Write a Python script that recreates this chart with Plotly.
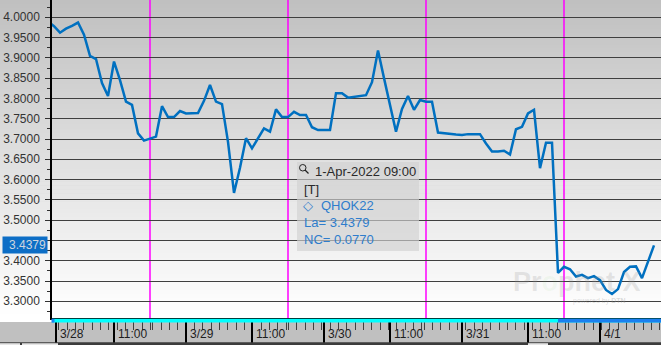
import pandas as pd
import plotly.graph_objects as go

# ---------------- data ----------------
times_all = pd.date_range("2022-03-28 00:00", "2022-04-01 09:00", freq="h")
times = [t.strftime("%Y-%m-%d %H:%M") for t in times_all if t.hour != 17]

values = [
    3.990, 3.978, 3.962, 3.972, 3.979, 3.987, 3.957, 3.905, 3.897, 3.838,
    3.806, 3.891, 3.845, 3.792, 3.784, 3.714, 3.696, 3.702, 3.706, 3.781,
    3.754, 3.754, 3.769, 3.763, 3.763, 3.764, 3.794, 3.833, 3.792, 3.786,
    3.693, 3.567, 3.629, 3.702, 3.677, 3.702, 3.726, 3.718, 3.773, 3.754,
    3.754, 3.767, 3.759, 3.759, 3.729, 3.722, 3.722, 3.722, 3.813, 3.813,
    3.802, 3.804, 3.806, 3.808, 3.840, 3.918, 3.850, 3.781, 3.718, 3.774,
    3.806, 3.772, 3.796, 3.792, 3.792, 3.716, 3.714, 3.712, 3.711, 3.710,
    3.712, 3.712, 3.712, 3.689, 3.669, 3.669, 3.671, 3.662, 3.724, 3.730,
    3.763, 3.772, 3.628, 3.691, 3.691, 3.370, 3.385, 3.379, 3.361, 3.365,
    3.357, 3.362, 3.352, 3.328, 3.318, 3.330, 3.372, 3.385, 3.386, 3.357,
    3.397, 3.4379,
]

tick_times = ["2022-03-28 01:15", "2022-03-28 11:00", "2022-03-29 00:00", "2022-03-29 11:00",
              "2022-03-30 00:00", "2022-03-30 11:00", "2022-03-31 00:00", "2022-03-31 11:00",
              "2022-04-01 00:00"]
tick_labels = ["3/28", "11:00", "3/29", "11:00", "3/30", "11:00", "3/31", "11:00", "4/1"]

y_tick_vals = [3.30, 3.35, 3.40, 3.45, 3.50, 3.55, 3.60, 3.65, 3.70, 3.75, 3.80, 3.85, 3.90, 3.95, 4.00]
# the 3.4500 label is hidden behind the last-value marker
y_tick_text = ["3.3000", "3.3500", "3.4000", "", "3.5000", "3.5500", "3.6000", "3.6500",
               "3.7000", "3.7500", "3.8000", "3.8500", "3.9000", "3.9500", "4.0000"]

session_breaks = ["2022-03-28 18:00", "2022-03-29 18:00", "2022-03-30 18:00", "2022-03-31 18:00"]

symbol = "QHOK22"
last_time_label = "1-Apr-2022 09:00"
last_value = values[-1]
net_change = 0.0770

# ---------------- geometry helpers (pixels -> paper) ----------------
W, H = 661, 345
L, R, T, B = 52, 0, 0, 27
PW, PH = W - L - R, H - T - B


def px(x):
    return (x - L) / PW


def py(y):
    return 1 - (y - T) / PH


FONT = "Liberation Sans, Arial, sans-serif"

fig = go.Figure()
fig.add_trace(go.Scatter(x=times, y=values, mode="lines",
                         line=dict(color="#0070c0", width=2.5),
                         hoverinfo="skip", showlegend=False))

shapes = []
# background gradient (grey at top to white at bottom)
n = 80
for i in range(n):
    y0 = i * 322 / n
    y1 = (i + 1) * 322 / n + 0.6
    c = int(round(192 + 63 * min(1.0, (i + 0.5) / n * 1.02)))
    shapes.append(dict(type="rect", xref="paper", yref="paper", layer="below",
                       x0=px(0), x1=px(W), y0=py(min(y1, 322)), y1=py(y0),
                       fillcolor=f"rgb({c},{c},{c})", line=dict(width=0)))

# session boundaries (magenta)
for s in session_breaks:
    shapes.append(dict(type="line", xref="x", yref="paper", layer="between",
                       x0=s, x1=s, y0=0, y1=1, line=dict(color="#ff00ff", width=1.5)))

# cyan / blue strip below plot
shapes.append(dict(type="rect", xref="paper", yref="paper", layer="above",
                   x0=px(52), x1=px(W), y0=py(322.6), y1=py(318.8),
                   fillcolor="#00ffff", line=dict(width=0)))
shapes.append(dict(type="rect", xref="x", yref="paper", layer="above",
                   x0="2022-03-31 16:00", x1="2022-04-01 10:10", y0=py(322.6), y1=py(318.8),
                   fillcolor="#1a80f0", line=dict(width=0)))
shapes.append(dict(type="rect", xref="paper", yref="paper", layer="above",
                   x0=px(51.5), x1=px(54.5), y0=py(322.6), y1=py(318.8),
                   fillcolor="#1a80f0", line=dict(width=0)))
# bottom dark strip
shapes.append(dict(type="rect", xref="paper", yref="paper", layer="above",
                   x0=px(0), x1=px(W), y0=py(345), y1=py(342.3),
                   fillcolor="#3c3c3c", line=dict(width=0)))
for a, b in [(0, 20), (22, 58), (528, 548)]:
    shapes.append(dict(type="rect", xref="paper", yref="paper", layer="above",
                       x0=px(a), x1=px(b), y0=py(345), y1=py(343.2),
                       fillcolor="#e6e6e6", line=dict(width=0)))

# tooltip box
shapes.append(dict(type="rect", xref="paper", yref="paper", layer="above",
                   x0=px(297), x1=px(419), y0=py(251), y1=py(162),
                   fillcolor="rgba(210,210,210,0.66)", line=dict(width=0)))
# magnifier icon
shapes.append(dict(type="circle", xref="paper", yref="paper", layer="above",
                   x0=px(299.5), x1=px(306), y0=py(171), y1=py(164.5),
                   line=dict(color="#222222", width=1)))
shapes.append(dict(type="line", xref="paper", yref="paper", layer="above",
                   x0=px(305), x1=px(308.5), y0=py(170), y1=py(173.5),
                   line=dict(color="#222222", width=1.3)))

annotations = []
# x tick labels
for t, lab in zip(tick_times, tick_labels):
    annotations.append(dict(x=t, xref="x", y=py(334), yref="paper", text=lab,
                            showarrow=False, xanchor="left", yanchor="middle", xshift=2,
                            font=dict(family=FONT, size=12, color="#1e1e1e")))
# last value marker on y axis
annotations.append(dict(x=px(47.5), xref="paper", y=last_value, yref="y",
                        text=f"{last_value:.4f}", showarrow=False, xanchor="right",
                        yanchor="middle", align="right", width=42, height=14, borderpad=1,
                        bgcolor="#0d6ec6", font=dict(family=FONT, size=12, color="#cfd6de")))
# tooltip texts
tip = [
    (313, 171.5, last_time_label, "#2a2a2a"),
    (301.5, 189.5, "[T]", "#2a2a2a"),
    (319, 205, symbol, "#2f7dcc"),
    (301.5, 222.5, f"La= {last_value:.4f}", "#2f7dcc"),
    (301.5, 239.5, f"NC= {net_change:.4f}", "#2f7dcc"),
]
for x, y, txt, col in tip:
    annotations.append(dict(x=px(x), xref="paper", y=py(y), yref="paper", text=txt,
                            showarrow=False, xanchor="left", yanchor="middle",
                            font=dict(family=FONT, size=13, color=col)))
annotations.append(dict(x=px(301), xref="paper", y=py(205), yref="paper", text="◇",
                        showarrow=False, xanchor="left", yanchor="middle",
                        font=dict(family="DejaVu Sans", size=13, color="#2f7dcc")))
# watermark
annotations.append(dict(x=px(511), xref="paper", y=py(282), yref="paper",
                        text="<b>Pr<span style='color:rgba(110,200,90,0.3)'>o</span>phet X</b>",
                        showarrow=False, xanchor="left", yanchor="middle",
                        font=dict(family=FONT, size=27, color="rgba(150,150,150,0.22)")))
annotations.append(dict(x=px(571), xref="paper", y=py(301), yref="paper",
                        text="powered by <b>DTN</b>", showarrow=False, xanchor="left",
                        yanchor="middle",
                        font=dict(family=FONT, size=7, color="rgba(150,150,150,0.35)")))

fig.update_layout(
    width=W, height=H, autosize=False,
    margin=dict(l=L, r=R, t=T, b=B, pad=0),
    paper_bgcolor="#c0c0c0", plot_bgcolor="rgba(0,0,0,0)",
    shapes=shapes, annotations=annotations, hovermode=False,
    xaxis=dict(
        type="date", range=["2022-03-28 00:40", "2022-04-01 10:10"],
        rangebreaks=[dict(bounds=[17, 18], pattern="hour")],
        showgrid=False, zeroline=False, showticklabels=False,
        tickmode="array", tickvals=tick_times,
        ticks="outside", ticklen=24, tickwidth=2, tickcolor="#000000",
        minor=dict(ticks="outside", dtick=5000000, tick0="2022-03-29 00:00",
                   ticklen=10, tickwidth=1, tickcolor="#404040", showgrid=False),
        showline=True, linecolor="#000000", linewidth=1.5,
    ),
    yaxis=dict(
        range=[3.2588, 4.0426], tickmode="array", tickvals=y_tick_vals, ticktext=y_tick_text,
        showgrid=True, gridcolor="#3f3f3f", gridwidth=1.2, zeroline=False,
        ticks="outside", ticklen=5, tickwidth=1, tickcolor="#303030",
        minor=dict(ticks="outside", dtick=0.025, tick0=3.0, ticklen=3, tickcolor="#303030",
                   showgrid=False),
        ticklabelstandoff=3,
        tickfont=dict(family=FONT, size=12, color="#333333"),
        showline=True, linecolor="#000000", linewidth=1.5,
    ),
)

fig.write_html("out.html")
